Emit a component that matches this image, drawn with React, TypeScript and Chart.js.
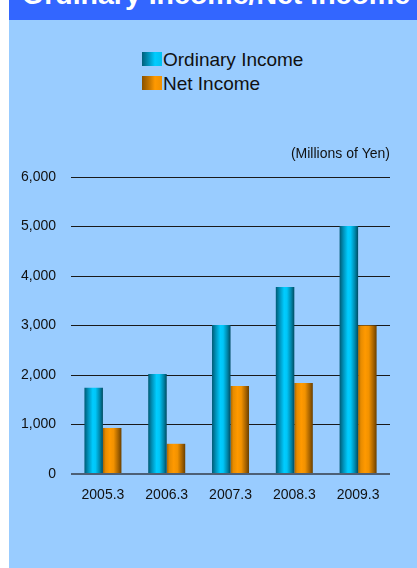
import React, { useEffect, useRef } from "react";
import { Chart, registerables } from "chart.js";

Chart.register(...registerables);

const categories = ["2005.3", "2006.3", "2007.3", "2008.3", "2009.3"];
const ordinaryIncome = [1740, 2020, 3010, 3780, 5010];
const netIncome = [930, 610, 1780, 1840, 3000];
const seriesNames = ["Ordinary Income", "Net Income"];
const unitLabel = "(Millions of Yen)";
const chartTitle = "Ordinary Income/Net Income";

const FONT = "'Liberation Sans', Arial, sans-serif";

const cyanStops: [number, string][] = [
  [0, "#005a74"],
  [0.2, "#0090b8"],
  [0.45, "#00ccff"],
  [0.6, "#00c6f8"],
  [0.82, "#0089ad"],
  [1, "#004c62"],
];
const orangeStops: [number, string][] = [
  [0, "#a86400"],
  [0.15, "#e88c00"],
  [0.38, "#ff9900"],
  [0.58, "#f29200"],
  [0.82, "#a86400"],
  [1, "#6a4000"],
];

const barGradientPlugin = {
  id: "barGradient",
  beforeDatasetsDraw(chart: any) {
    const ctx = chart.ctx;
    chart.data.datasets.forEach((ds: any, di: number) => {
      const meta = chart.getDatasetMeta(di);
      const stops = di === 0 ? cyanStops : orangeStops;
      meta.data.forEach((el: any) => {
        const w = el.width;
        const x0 = el.x - w / 2;
        const g = ctx.createLinearGradient(x0, 0, x0 + w, 0);
        stops.forEach(([o, c]) => g.addColorStop(o, c));
        el.options.backgroundColor = g;
      });
    });
  },
};

export default function App() {
  const canvasRef = useRef<HTMLCanvasElement | null>(null);

  useEffect(() => {
    if (!canvasRef.current) return;
    const chart = new Chart(canvasRef.current, {
      type: "bar",
      data: {
        labels: categories,
        datasets: [
          {
            label: seriesNames[0],
            data: ordinaryIncome,
            backgroundColor: () => "#00ccff",
            borderWidth: 0,
            categoryPercentage: 0.58,
            barPercentage: 1,
          },
          {
            label: seriesNames[1],
            data: netIncome,
            backgroundColor: () => "#ff9900",
            borderWidth: 0,
            categoryPercentage: 0.58,
            barPercentage: 1,
          },
        ],
      },
      options: {
        responsive: false,
        animation: false,
        layout: { padding: { left: 0, right: 27, top: 0, bottom: 52 } },
        plugins: {
          legend: { display: false },
          tooltip: { enabled: false },
          title: {
            display: true,
            text: unitLabel,
            align: "end",
            color: "#111111",
            font: { family: FONT, size: 14, weight: "normal" },
            padding: { top: 15.6, bottom: 14.6 },
          },
        },
        scales: {
          x: {
            grid: { display: false, drawTicks: false },
            border: { display: false },
            ticks: {
              color: "#111111",
              font: { family: FONT, size: 14 },
              padding: 12.6,
              maxRotation: 0,
            },
          },
          y: {
            min: 0,
            max: 6000,
            border: { display: false },
            grid: {
              drawTicks: false,
              color: (c: any) => (c.tick && c.tick.value === 0 ? "#4d6076" : "#1a1a1a"),
              lineWidth: (c: any) => (c.tick && c.tick.value === 0 ? 2 : 1),
            },
            ticks: {
              stepSize: 1000,
              color: "#111111",
              font: { family: FONT, size: 14 },
              padding: 15,
            },
          },
        },
      },
      plugins: [barGradientPlugin],
    } as any);
    return () => chart.destroy();
  }, []);

  const cyanCss =
    "linear-gradient(to right, #005f7a 0%, #0096c0 35%, #00ccff 65%, #00c0f0 100%)";
  const orangeCss =
    "linear-gradient(to right, #8a5200 0%, #c27400 35%, #ff9900 65%, #f09000 100%)";

  return (
    <div
      style={{
        position: "absolute",
        left: 9,
        top: 0,
        width: 408,
        height: 568,
        background: "#99ccff",
        overflow: "hidden",
        fontFamily: FONT,
      }}
    >
      <div
        style={{
          position: "absolute",
          left: 0,
          top: 0,
          width: 408,
          height: 20,
          background: "#3366ff",
          overflow: "hidden",
        }}
      >
        <span
          style={{
            position: "absolute",
            left: 13,
            top: -20,
            whiteSpace: "nowrap",
            color: "#ffffff",
            fontWeight: "bold",
            fontSize: 28.5,
            lineHeight: "28px",
          }}
        >
          {chartTitle}
        </span>
      </div>
      {[0, 1].map((i) => (
        <div
          key={i}
          style={{
            position: "absolute",
            left: 133,
            top: 50 + i * 23.5,
            height: 19,
            whiteSpace: "nowrap",
            fontSize: 19,
            lineHeight: "19px",
            color: "#111111",
          }}
        >
          <span
            style={{
              position: "absolute",
              left: 0,
              top: 2 + i * 0.5,
              width: 20,
              height: 14,
              background: i === 0 ? cyanCss : orangeCss,
            }}
          />
          <span style={{ position: "absolute", left: 21, top: 0 }}>{seriesNames[i]}</span>
        </div>
      ))}
      <canvas
        ref={canvasRef}
        width={411}
        height={438}
        style={{ position: "absolute", left: -3, top: 130, display: "block" }}
      />
    </div>
  );
}
